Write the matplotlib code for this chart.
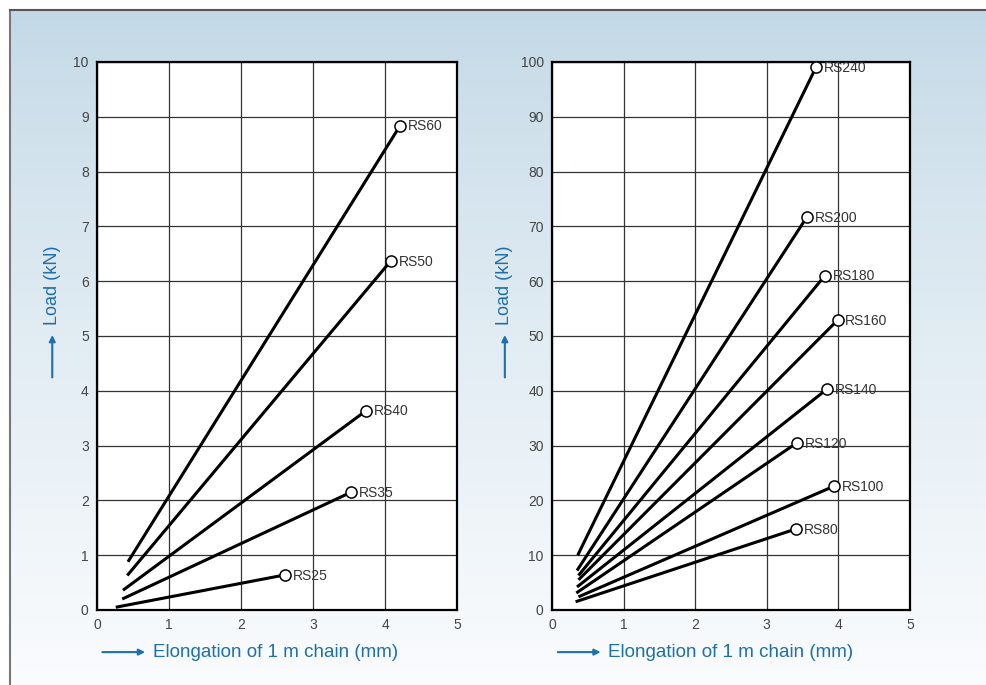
import numpy as np
import matplotlib.pyplot as plt

plt.rcParams['font.family'] = ['Liberation Sans', 'DejaVu Sans']

# left chart: small chains
small_names = ["RS25", "RS35", "RS40", "RS50", "RS60"]
small_x0 = [0.26, 0.35, 0.36, 0.42, 0.43]
small_y0 = [0.05, 0.20, 0.36, 0.63, 0.88]
small_x1 = [2.61, 3.53, 3.74, 4.08, 4.21]
small_y1 = [0.64, 2.15, 3.64, 6.37, 8.84]

# right chart: large chains
big_names = ["RS80", "RS100", "RS120", "RS140", "RS160", "RS180", "RS200", "RS240"]
big_x0 = [0.33, 0.37, 0.34, 0.35, 0.37, 0.37, 0.35, 0.36]
big_y0 = [1.5, 2.4, 3.1, 4.2, 5.5, 6.3, 7.2, 10.0]
big_x1 = [3.41, 3.94, 3.42, 3.84, 3.99, 3.81, 3.56, 3.69]
big_y1 = [14.8, 22.6, 30.5, 40.3, 52.9, 61.0, 71.7, 99.1]

xticks = [0, 1, 2, 3, 4, 5]
blue = "#1f6fa8"

fig = plt.figure(figsize=(9.86, 6.85), dpi=100)

# background gradient with frame
bg = fig.add_axes([0.0101, 0, 0.9899, 0.9854], zorder=-5)
grad = (np.linspace(0, 1, 256) ** 0.8)[:, None] * np.ones((1, 2))
top = np.array([0.761, 0.847, 0.902])
bot = np.array([0.980, 0.987, 0.994])
img = top[None, None, :] * (1 - grad[..., None]) + bot[None, None, :] * grad[..., None]
img = np.clip(img, 0, 1)
bg.imshow(img, aspect="auto", extent=[0, 1, 0, 1], origin="upper")
bg.set_xlim(0, 1)
bg.set_ylim(0, 1)
bg.axis("off")
fig.add_artist(plt.Line2D([0.0101, 0.0101], [0, 0.9854], color="#777777", lw=1.5))
fig.add_artist(plt.Line2D([0.0101, 1], [0.9854, 0.9854], color="#555555", lw=1.5))


def draw(ax, names, x0, y0, x1, y1, ymax, ystep, y_arrow_x, x_arrow_x):
    ax.set_facecolor("white")
    ax.set_xlim(0, 5)
    ax.set_ylim(0, ymax)
    ax.set_xticks(xticks)
    ax.set_yticks(np.arange(0, ymax + ystep, ystep))
    ax.grid(True, color="#333333", lw=0.9)
    ax.set_axisbelow(True)
    for s in ax.spines.values():
        s.set_linewidth(1.6)
        s.set_color("black")
    ax.tick_params(length=0, labelsize=10, labelcolor="#444444", pad=6)
    for n, a, b, c, d in zip(names, x0, y0, x1, y1):
        ax.plot([a, c], [b, d], color="black", lw=2.2, solid_capstyle="butt", zorder=3)
        ax.plot([c], [d], "o", ms=8, mfc="white", mec="black", mew=1.1, zorder=4)
        ax.annotate(n, (c, d), xytext=(5.5, -0.5), textcoords="offset points",
                    va="center", ha="left", fontsize=10, color="#333333", zorder=5)
    # y label with arrow
    fig.text(y_arrow_x, 0.583, "Load (kN)", rotation=90, ha="center", va="center",
             fontsize=13, color=blue)
    fig.add_artist(plt.Annotation("", xy=(y_arrow_x, 0.515), xytext=(y_arrow_x, 0.445),
                                  xycoords="figure fraction",
                                  arrowprops=dict(arrowstyle="-|>", color=blue, lw=1.5,
                                                  mutation_scale=9)))
    # x label with arrow
    fig.add_artist(plt.Annotation("", xy=(x_arrow_x + 0.049, 0.048), xytext=(x_arrow_x, 0.048),
                                  xycoords="figure fraction",
                                  arrowprops=dict(arrowstyle="-|>", color=blue, lw=1.5,
                                                  mutation_scale=9)))
    fig.text(x_arrow_x + 0.054, 0.048, "Elongation of 1 m chain (mm)", ha="left", va="center",
             fontsize=13.5, color=blue)


ax1 = fig.add_axes([0.0984, 0.1095, 0.3651, 0.8])
draw(ax1, small_names, small_x0, small_y0, small_x1, small_y1, 10, 1, 0.053, 0.101)

ax2 = fig.add_axes([0.5598, 0.1095, 0.3631, 0.8])
draw(ax2, big_names, big_x0, big_y0, big_x1, big_y1, 100, 10, 0.512, 0.563)

fig.savefig("out.png", dpi=100)
